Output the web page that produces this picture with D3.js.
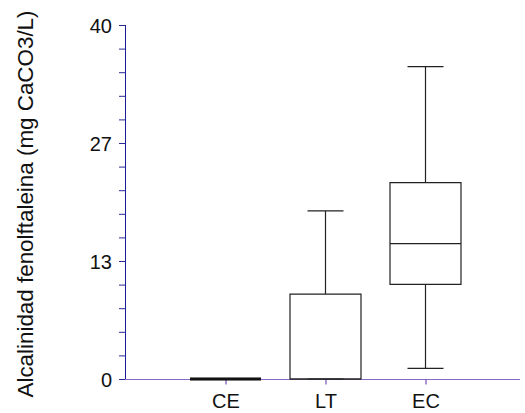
<!DOCTYPE html>
<html>
<head>
<meta charset="utf-8">
<script src="https://cdn.jsdelivr.net/npm/d3@7/dist/d3.min.js"></script>
<style>
  html, body { margin: 0; padding: 0; background: #fff; }
  svg { display: block; }
  text { font-family: "Liberation Sans", Arial, sans-serif; fill: #111; }
</style>
</head>
<body>
<svg id="chart" width="525" height="413"></svg>
<script>
// Box-plot summaries per site: whisker low, Q1, median, Q3, whisker high
const categories = ["CE", "LT", "EC"];
const whiskerLow  = [0, 0, 1.2];
const q1          = [0, 0, 10.7];
const median      = [0, 0, 15.3];
const q3          = [0, 9.6, 22.2];
const whiskerHigh = [0, 19.0, 35.3];

const yTickValues = [0, 40 / 3, 80 / 3, 40];
const yTickLabels = ["0", "13", "27", "40"];
const yMinorCount = 15;
const yTitle = "Alcalinidad fenolftaleina (mg CaCO3/L)";

const svg = d3.select("#chart");

const x = d3.scalePoint().domain(categories).range([225.5, 425.5]);
const y = d3.scaleLinear().domain([0, 40]).range([379, 25]);

const boxW = 71, capW = 36;

// Minor ticks on the value axis
const minor = d3.range(yMinorCount + 1).map(i => i * 40 / yMinorCount);
svg.append("g")
  .attr("transform", "translate(125,0)")
  .call(d3.axisLeft(y).tickValues(minor).tickSize(6).tickFormat(""))
  .call(g => g.select(".domain").remove())
  .call(g => g.selectAll("line").attr("stroke", "#2a2a9a"));

// Major ticks with labels
const yAxis = svg.append("g")
  .attr("transform", "translate(125,0)")
  .call(d3.axisLeft(y).tickValues(yTickValues).tickSize(6).tickPadding(7)
    .tickFormat((d, i) => yTickLabels[i]));
yAxis.select(".domain").attr("stroke", "#1c1c96").attr("d", `M0.5,${y(40)}V${y(0)}`);
yAxis.selectAll("line").attr("stroke", "#2a2a9a");
yAxis.selectAll("text").attr("font-size", 20).attr("fill", "#111").attr("dy", "0.36em");

// Category axis
const xAxis = svg.append("g")
  .attr("transform", `translate(0,${y(0)})`)
  .call(d3.axisBottom(x).tickSize(5).tickPadding(10));
xAxis.select(".domain").attr("stroke", "#8a66c8").attr("d", "M125,0.5H520");
xAxis.selectAll("line").attr("stroke", "#5a2da0").attr("transform", "translate(0,0.5)");
xAxis.selectAll("text").attr("font-size", 20).attr("fill", "#111").attr("dy", "0.71em");

// Axis title
svg.append("text")
  .attr("transform", `translate(33,204) rotate(-90)`)
  .attr("text-anchor", "middle")
  .attr("font-size", 22.4)
  .text(yTitle);

// Boxes
const data = categories.map((c, i) => ({
  c, lo: whiskerLow[i], q1: q1[i], med: median[i], q3: q3[i], hi: whiskerHigh[i]
}));

const boxes = svg.append("g").selectAll("g").data(data).join("g")
  .attr("fill", "none").attr("stroke", "#222").attr("stroke-width", 1.2);

// upper whisker + cap
boxes.filter(d => d.hi > d.q3).append("line")
  .attr("x1", d => x(d.c)).attr("x2", d => x(d.c))
  .attr("y1", d => y(d.hi)).attr("y2", d => y(d.q3));
boxes.filter(d => d.hi > d.q3).append("line")
  .attr("x1", d => x(d.c) - capW / 2).attr("x2", d => x(d.c) + capW / 2)
  .attr("y1", d => y(d.hi)).attr("y2", d => y(d.hi));

// lower whisker + cap
boxes.filter(d => d.lo < d.q1).append("line")
  .attr("x1", d => x(d.c)).attr("x2", d => x(d.c))
  .attr("y1", d => y(d.q1)).attr("y2", d => y(d.lo));
boxes.append("line")
  .attr("x1", d => x(d.c) - capW / 2).attr("x2", d => x(d.c) + capW / 2)
  .attr("y1", d => y(d.lo)).attr("y2", d => y(d.lo));

// box outline as a closed path, so a collapsed box still shows as a bold bar
boxes.append("path")
  .attr("d", d => {
    const x0 = x(d.c) - boxW / 2, x1 = x(d.c) + boxW / 2;
    const yt = y(d.q3), yb = y(d.q1);
    return `M${x0},${yt}H${x1}V${yb}H${x0}Z`;
  })
  .attr("stroke-width", d => d.q3 === d.q1 ? 3 : 1.2)
  .attr("stroke", d => d.q3 === d.q1 ? "#000" : "#222");

// median
boxes.append("line")
  .attr("x1", d => x(d.c) - boxW / 2).attr("x2", d => x(d.c) + boxW / 2)
  .attr("y1", d => y(d.med)).attr("y2", d => y(d.med));
</script>
</body>
</html>
